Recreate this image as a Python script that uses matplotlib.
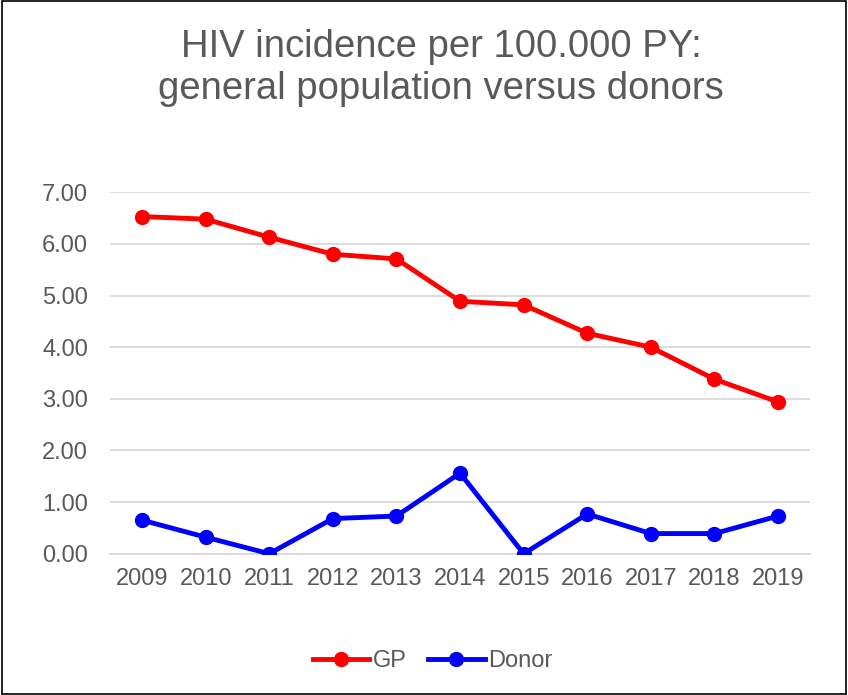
import matplotlib.pyplot as plt
from matplotlib.patches import Rectangle

plt.rcParams['font.family'] = ['Liberation Sans', 'DejaVu Sans']

years = ['2009', '2010', '2011', '2012', '2013', '2014', '2015', '2016', '2017', '2018', '2019']
gp = [6.53, 6.48, 6.13, 5.80, 5.71, 4.89, 4.82, 4.27, 4.00, 3.38, 2.94]
donor = [0.65, 0.32, 0.0, 0.68, 0.73, 1.56, 0.0, 0.77, 0.39, 0.39, 0.73]
yticks = [0, 1, 2, 3, 4, 5, 6, 7]

txt = '#595959'
fig = plt.figure(figsize=(8.48, 6.95), dpi=100)
ax = fig.add_axes([0.130, 0.2033, 0.825, 0.52])

x = range(len(years))
ax.plot(x, gp, color='#FF0000', lw=3.5, marker='o', ms=10, label='GP', zorder=3)
ax.plot(x, donor, color='#0000FF', lw=3.5, marker='o', ms=10, label='Donor', zorder=3)

ax.set_xlim(-0.5, len(years) - 0.5)
ax.set_ylim(0, 7)
ax.set_xticks(list(x))
ax.set_xticklabels(years)
ax.set_yticks(yticks)
ax.set_yticklabels([f'{v:.2f}' for v in yticks])
ax.tick_params(length=0, labelsize=17, colors=txt)
ax.tick_params(axis='x', pad=10)
ax.tick_params(axis='y', pad=16)
ax.grid(axis='y', color='#D9D9D9', lw=1.3)
ax.set_axisbelow(True)
for s in ax.spines.values():
    s.set_visible(False)
ax.spines['bottom'].set_visible(True)
ax.spines['bottom'].set_color('#D9D9D9')
ax.spines['bottom'].set_linewidth(1.3)

fig.text(0.52, 0.902, 'HIV incidence per 100.000 PY:\ngeneral population versus donors',
         ha='center', va='center', fontsize=27.5, color=txt, linespacing=1.22)

leg = fig.legend(loc='center', bbox_to_anchor=(0.51, 0.049), ncol=2, frameon=False,
                 fontsize=17, handlelength=2.4, columnspacing=0.9, handletextpad=0.15)
for t in leg.get_texts():
    t.set_color(txt)

fig.patches.append(Rectangle((0.002, 0.002), 0.996, 0.996, transform=fig.transFigure,
                             fill=False, edgecolor='black', lw=1.2))

fig.savefig('out.png', dpi=100)
